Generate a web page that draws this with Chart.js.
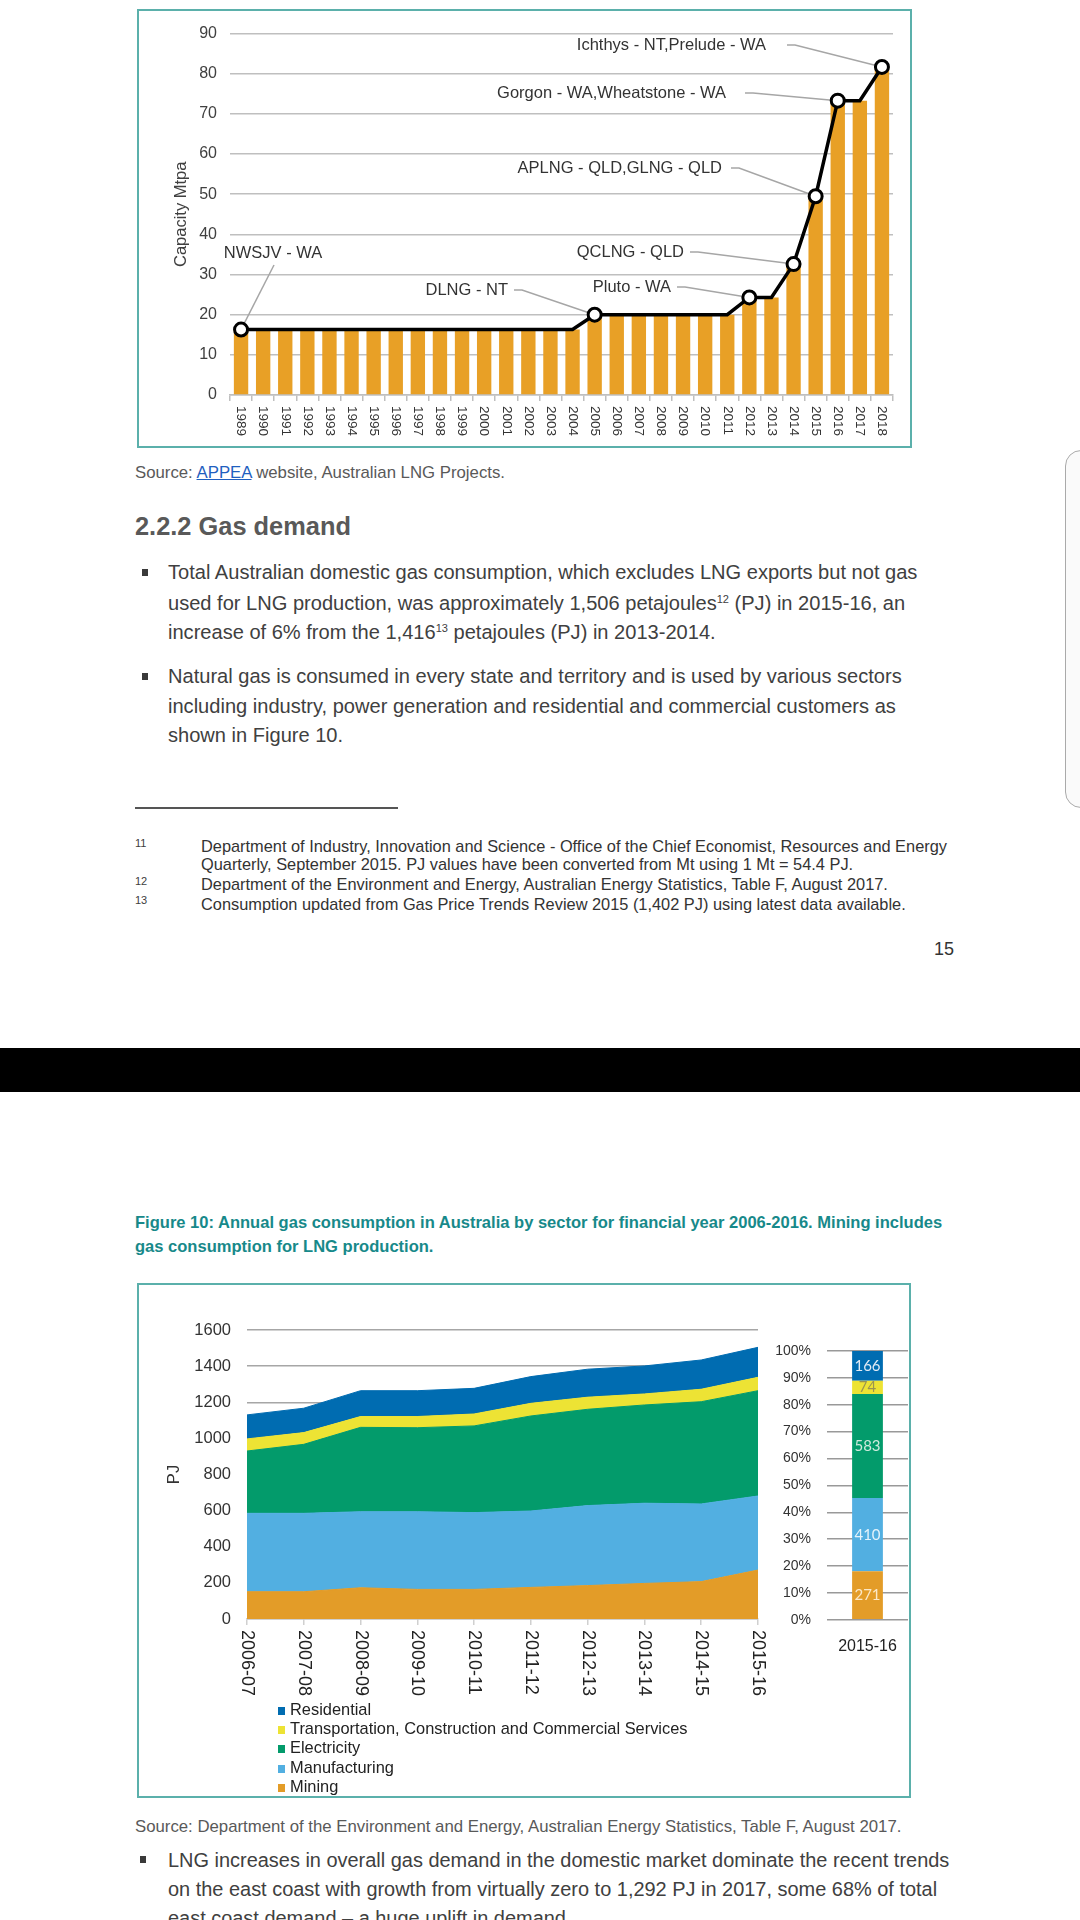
<!DOCTYPE html>
<html><head><meta charset="utf-8">
<script src="https://cdn.jsdelivr.net/npm/chart.js@4.4.1/dist/chart.umd.min.js"></script>
<style>
html,body{margin:0;padding:0;}
body{width:1080px;height:1920px;position:relative;overflow:hidden;background:#fff;font-family:"Liberation Sans",Arial,sans-serif;}
.t{position:absolute;white-space:nowrap;line-height:1.15;}
.frame{position:absolute;border:2px solid #5BB0AB;box-sizing:border-box;}
.cv{position:absolute;}
.bul{position:absolute;width:6px;height:7px;background:#3a3a3a;}
sup{font-size:0.55em;vertical-align:0.6em;line-height:0;}
#legend{position:absolute;left:278px;top:1700px;font-size:16.4px;color:#222;}
#legend .row{height:19.2px;line-height:19.2px;white-space:nowrap;}
#legend .sw{display:inline-block;width:7px;height:8px;margin-right:5px;vertical-align:0px;}
</style></head>
<body>
<!-- top figure -->
<div class="frame" style="left:137px;top:9px;width:775px;height:439px;"></div>
<canvas id="cap" class="cv" style="left:139px;top:11px;" width="771" height="435"></canvas>

<div class="t" data-g="src" data-y="473" style="left:135px;font-size:14.5px;color:#595959">Source: <span style="color:#1f5fbf;text-decoration:underline">APPEA</span> website, Australian LNG Projects.</div>
<div class="t" data-g="h" data-w="216" data-y="527" style="left:135px;font-size:24px;font-weight:bold;color:#595959">2.2.2 Gas demand</div>

<div class="bul" style="left:142px;top:569px"></div>
<div class="t" data-g="body" data-w="750" data-y="573" style="left:168px;font-size:20px;color:#404040">Total Australian domestic gas consumption, which excludes LNG exports but not gas</div>
<div class="t" data-g="body" data-y="604" style="left:168px;font-size:20px;color:#404040">used for LNG production, was approximately 1,506 petajoules<sup>12</sup> (PJ) in 2015-16, an</div>
<div class="t" data-g="body" data-y="633" style="left:168px;font-size:20px;color:#404040">increase of 6% from the 1,416<sup>13</sup> petajoules (PJ) in 2013-2014.</div>

<div class="bul" style="left:142px;top:673px"></div>
<div class="t" data-g="body" data-y="677" style="left:168px;font-size:20px;color:#404040">Natural gas is consumed in every state and territory and is used by various sectors</div>
<div class="t" data-g="body" data-y="707" style="left:168px;font-size:20px;color:#404040">including industry, power generation and residential and commercial customers as</div>
<div class="t" data-g="body" data-y="736" style="left:168px;font-size:20px;color:#404040">shown in Figure 10.</div>

<div style="position:absolute;left:135px;top:807px;width:263px;height:2px;background:#555"></div>

<div class="t" data-g="fnn" data-y="843" style="left:135px;font-size:11px;color:#404040">11</div>
<div class="t" data-g="fn" data-w="746" data-y="846" style="left:201px;font-size:15px;color:#333">Department of Industry, Innovation and Science - Office of the Chief Economist, Resources and Energy</div>
<div class="t" data-g="fn" data-y="864" style="left:201px;font-size:15px;color:#333">Quarterly, September 2015. PJ values have been converted from Mt using 1 Mt = 54.4 PJ.</div>
<div class="t" data-g="fnn" data-y="881" style="left:135px;font-size:11px;color:#404040">12</div>
<div class="t" data-g="fn" data-y="884" style="left:201px;font-size:15px;color:#333">Department of the Environment and Energy, Australian Energy Statistics, Table F, August 2017.</div>
<div class="t" data-g="fnn" data-y="900" style="left:135px;font-size:11px;color:#404040">13</div>
<div class="t" data-g="fn" data-y="904" style="left:201px;font-size:15px;color:#333">Consumption updated from Gas Price Trends Review 2015 (1,402 PJ) using latest data available.</div>

<div class="t" data-g="pg" data-y="949" style="left:934px;font-size:18px;color:#333">15</div>

<div style="position:absolute;left:1065px;top:450px;width:40px;height:358px;border:1.5px solid #aaa;border-radius:16px;background:#fafafa;box-sizing:border-box"></div>

<div style="position:absolute;left:0;top:1048px;width:1080px;height:44px;background:#000"></div>

<!-- bottom figure -->
<div class="t" data-g="cap" data-w="808" data-y="1223" style="left:135px;font-size:15px;font-weight:bold;color:#17898a">Figure 10: Annual gas consumption in Australia by sector for financial year 2006-2016. Mining includes</div>
<div class="t" data-g="cap" data-y="1247" style="left:135px;font-size:15px;font-weight:bold;color:#17898a">gas consumption for LNG production.</div>

<div class="frame" style="left:137px;top:1283px;width:774px;height:515px;"></div>
<canvas id="area" class="cv" style="left:139px;top:1285px;" width="631" height="420"></canvas>
<canvas id="share" class="cv" style="left:770px;top:1285px;" width="140" height="380"></canvas>
<div id="legend"></div>

<div class="t" data-g="src" data-w="767" data-y="1827" style="left:135px;font-size:14.5px;color:#595959">Source: Department of the Environment and Energy, Australian Energy Statistics, Table F, August 2017.</div>

<div class="bul" style="left:140px;top:1856px"></div>
<div class="t" data-g="body2" data-w="782" data-y="1860" style="left:168px;font-size:20px;color:#404040">LNG increases in overall gas demand in the domestic market dominate the recent trends</div>
<div class="t" data-g="body2" data-y="1889" style="left:168px;font-size:20px;color:#404040">on the east coast with growth from virtually zero to 1,292 PJ in 2017, some 68% of total</div>
<div class="t" data-g="body2" data-y="1918" style="left:168px;font-size:20px;color:#404040">east coast demand – a huge uplift in demand.</div>

<script>
// ---------- data: LNG capacity ----------
const years = ['1989','1990','1991','1992','1993','1994','1995','1996','1997','1998','1999','2000','2001','2002','2003','2004','2005','2006','2007','2008','2009','2010','2011','2012','2013','2014','2015','2016','2017','2018'];
const capacity = [16.3,16.3,16.3,16.3,16.3,16.3,16.3,16.3,16.3,16.3,16.3,16.3,16.3,16.3,16.3,16.3,20,20,20,20,20,20,20,24.3,24.3,32.6,49.5,73.3,73.3,81.7];
const projectYears = ['1989','2005','2012','2014','2015','2016','2018'];
const projectNames = ['NWSJV - WA','DLNG - NT','Pluto - WA','QCLNG - QLD','APLNG - QLD,GLNG - QLD','Gorgon - WA,Wheatstone - WA','Ichthys - NT,Prelude - WA'];
const capacityTicks = [0,10,20,30,40,50,60,70,80,90];

// ---------- data: gas consumption by sector (PJ) ----------
const periods = ['2006-07','2007-08','2008-09','2009-10','2010-11','2011-12','2012-13','2013-14','2014-15','2015-16'];
const mining        = [151,151,173,164,164,175,185,197,207,271];
const manufacturing = [434,434,421,430,425,423,443,444,430,410];
const electricity   = [345,382,467,465,480,526,533,544,566,583];
const transport     = [67,65,60,62,66,70,67,61,69,74];
const residential   = [133,135,143,143,142,148,155,155,162,166];
const sectorNames = ['Mining','Manufacturing','Electricity','Transportation, Construction and Commercial Services','Residential'];
const pjTicks = [0,200,400,600,800,1000,1200,1400,1600];
const percentTicks = [0,10,20,30,40,50,60,70,80,90,100];

// ---------- styling ----------
const FONT = 'Liberation Sans';
const sectorColors = ['#E39C28','#52AFE1','#039B6B','#EDE334','#006CB1'];
const shareLabelColors = ['#fbe8c8','#e4f3fb','#cfeadd','#9a9450','#e2ebf5'];

// ---------- layout helpers for text ----------
(function fitText(){
  const groups = {};
  document.querySelectorAll('.t').forEach(el => { (groups[el.dataset.g] = groups[el.dataset.g] || []).push(el); });
  for (const g in groups) {
    const ref = groups[g].find(e => e.dataset.w);
    if (ref) {
      const k = parseFloat(ref.dataset.w) / ref.getBoundingClientRect().width;
      groups[g].forEach(e => { e.style.fontSize = (parseFloat(getComputedStyle(e).fontSize) * k) + 'px'; });
    }
  }
  document.querySelectorAll('.t').forEach(el => {
    const h = el.getBoundingClientRect().height;
    el.style.top = (parseFloat(el.dataset.y) - h / 2) + 'px';
  });
})();

// ---------- plugins ----------
const rotatedXLabels = {
  id: 'rotatedXLabels',
  afterDraw(chart, args, opts) {
    if (!opts || !opts.labels) return;
    const xs = chart.scales.x, ctx = chart.ctx;
    ctx.save();
    ctx.font = opts.font;
    ctx.fillStyle = opts.color;
    ctx.textAlign = 'left';
    ctx.textBaseline = 'middle';
    opts.labels.forEach((lab, i) => {
      ctx.save();
      ctx.translate(xs.getPixelForTick(i), xs.top + opts.offset);
      ctx.rotate(Math.PI / 2);
      ctx.fillText(lab, 0, 0);
      ctx.restore();
    });
    ctx.restore();
  }
};

const callouts = {
  id: 'callouts',
  beforeDatasetsDraw(chart, args, opts) {
    const xs = chart.scales.x, ys = chart.scales.y, ctx = chart.ctx;
    ctx.save();
    ctx.font = opts.font;
    ctx.fillStyle = opts.color;
    ctx.textBaseline = 'middle';
    opts.items.forEach((it, n) => {
      const i = years.indexOf(projectYears[n]);
      const px = xs.getPixelForValue(i), py = ys.getPixelForValue(capacity[i]);
      ctx.strokeStyle = opts.lineColor;
      ctx.lineWidth = 1.5;
      ctx.beginPath();
      ctx.moveTo(it.lx, it.ly);
      if (it.align === 'right') ctx.lineTo(it.lx + 8, it.ly);
      ctx.lineTo(px, py);
      ctx.stroke();
      ctx.textAlign = it.align;
      ctx.fillText(projectNames[n], it.tx, it.ty);
    });
    ctx.restore();
  }
};

const segmentLabels = {
  id: 'segmentLabels',
  afterDatasetsDraw(chart, args, opts) {
    const ctx = chart.ctx;
    ctx.save();
    ctx.font = opts.font;
    ctx.textAlign = 'center';
    ctx.textBaseline = 'middle';
    chart.data.datasets.forEach((ds, k) => {
      const el = chart.getDatasetMeta(k).data[0];
      const c = el.getCenterPoint();
      ctx.fillStyle = shareLabelColors[k];
      ctx.fillText(String(opts.values[k]), c.x, c.y);
    });
    ctx.restore();
  }
};

// ---------- chart 1: LNG capacity ----------
new Chart(document.getElementById('cap'), {
  type: 'bar',
  data: {
    labels: years,
    datasets: [
      { type: 'line', data: capacity, borderColor: '#000', borderWidth: 3.5, tension: 0,
        pointRadius: c => projectYears.includes(years[c.dataIndex]) ? 6.5 : 0,
        pointBackgroundColor: '#fff', pointBorderColor: '#000', pointBorderWidth: 3, order: 0 },
      { type: 'bar', data: capacity, backgroundColor: '#E8A026', barPercentage: 0.65, categoryPercentage: 1, order: 1 }
    ]
  },
  options: {
    responsive: false, animation: false, devicePixelRatio: 1,
    layout: { padding: { top: 17, right: 17, left: 0, bottom: 0 } },
    plugins: {
      legend: { display: false }, tooltip: { enabled: false },
      rotatedXLabels: { labels: years, font: '13.5px "Liberation Sans"', color: '#333', offset: 11 },
      callouts: {
        font: '16.5px "Liberation Sans"', color: '#333', lineColor: '#a6a6a6',
        items: [
          { align: 'center', tx: 134, ty: 242, lx: 135, ly: 254 },
          { align: 'right', tx: 369, ty: 279, lx: 375, ly: 279 },
          { align: 'right', tx: 532, ty: 276, lx: 538, ly: 276 },
          { align: 'right', tx: 545, ty: 241, lx: 551, ly: 241 },
          { align: 'right', tx: 583, ty: 157, lx: 592, ly: 157 },
          { align: 'right', tx: 587, ty: 82, lx: 606, ly: 82 },
          { align: 'right', tx: 627, ty: 34, lx: 648, ly: 34 }
        ]
      }
    },
    scales: {
      x: {
        grid: { drawOnChartArea: false, drawTicks: true, tickLength: 6, color: '#bfbfbf', lineWidth: 1.5 },
        border: { color: '#bfbfbf', width: 1.5 },
        ticks: { display: false },
        afterFit: s => { s.height = 51; }
      },
      y: {
        min: 0, max: 90,
        afterBuildTicks: s => { s.ticks = capacityTicks.map(v => ({ value: v })); },
        ticks: { font: { family: FONT, size: 16 }, color: '#404040', padding: 13, callback: v => String(v) },
        grid: { color: '#bfbfbf', lineWidth: 1.5, drawTicks: false },
        border: { display: false },
        title: { display: true, text: 'Capacity Mtpa', font: { family: FONT, size: 16.5 }, color: '#404040', padding: { top: 33 } },
        afterFit: s => { s.width = 91; }
      }
    }
  },
  plugins: [rotatedXLabels, callouts]
});

// ---------- chart 2: stacked area ----------
const sectorSeries = [mining, manufacturing, electricity, transport, residential];
new Chart(document.getElementById('area'), {
  type: 'line',
  data: {
    labels: periods,
    datasets: sectorSeries.map((s, k) => ({
      label: sectorNames[k], data: s, backgroundColor: sectorColors[k], borderColor: sectorColors[k],
      borderWidth: 1, pointRadius: 0, tension: 0, fill: k === 0 ? 'origin' : '-1'
    }))
  },
  options: {
    responsive: false, animation: false, devicePixelRatio: 1,
    layout: { padding: { top: 45, right: 12, left: 0, bottom: 0 } },
    plugins: {
      legend: { display: false }, tooltip: { enabled: false },
      rotatedXLabels: { labels: periods, font: '18px "Liberation Sans"', color: '#222', offset: 11 }
    },
    scales: {
      x: {
        offset: false,
        grid: { drawOnChartArea: false, drawTicks: true, tickLength: 6, color: '#d0d0d0', lineWidth: 1.5 },
        border: { color: '#d0d0d0', width: 1.5 },
        ticks: { display: false },
        afterFit: s => { s.height = 86; }
      },
      y: {
        stacked: true, min: 0, max: 1600,
        afterBuildTicks: s => { s.ticks = pjTicks.map(v => ({ value: v })); },
        ticks: { font: { family: FONT, size: 16.5 }, color: '#333', padding: 16, callback: v => String(v) },
        grid: { color: '#a6a6a6', lineWidth: 1.5, drawTicks: false },
        border: { display: false },
        title: { display: true, text: 'PJ', font: { family: FONT, size: 16.5 }, color: '#333', padding: { top: 26 } },
        afterFit: s => { s.width = 108; }
      }
    }
  },
  plugins: [rotatedXLabels]
});

// ---------- chart 3: 100% share in 2015-16 ----------
const shareValues = sectorSeries.map(s => s[s.length - 1]);
const shareTotal = shareValues.reduce((a, b) => a + b, 0);
new Chart(document.getElementById('share'), {
  type: 'bar',
  data: {
    labels: [periods[periods.length - 1]],
    datasets: shareValues.map((v, k) => ({
      label: sectorNames[k], data: [v / shareTotal * 100], backgroundColor: sectorColors[k],
      barPercentage: 0.38, categoryPercentage: 1
    }))
  },
  options: {
    responsive: false, animation: false, devicePixelRatio: 1,
    layout: { padding: { top: 66, right: 2, left: 0, bottom: 0 } },
    plugins: {
      legend: { display: false }, tooltip: { enabled: false },
      segmentLabels: { values: shareValues, font: '15px Lato' }
    },
    scales: {
      x: {
        stacked: true,
        grid: { display: false }, border: { display: false },
        ticks: { font: { family: FONT, size: 16 }, color: '#222', padding: 9 }
      },
      y: {
        stacked: true, min: 0, max: 100,
        afterBuildTicks: s => { s.ticks = percentTicks.map(v => ({ value: v })); },
        ticks: { font: { family: FONT, size: 14 }, color: '#333', padding: 16, callback: v => v + '%' },
        grid: { color: '#999', lineWidth: 1.5, drawTicks: false },
        border: { display: false },
        afterFit: s => { s.width = 57; }
      }
    }
  },
  plugins: [segmentLabels]
});

// ---------- legend (HTML, from the dataset arrays) ----------
const legendEl = document.getElementById('legend');
for (let k = sectorNames.length - 1; k >= 0; k--) {
  const row = document.createElement('div');
  row.className = 'row';
  const sw = document.createElement('span');
  sw.className = 'sw';
  sw.style.background = sectorColors[k];
  row.appendChild(sw);
  row.appendChild(document.createTextNode(sectorNames[k]));
  legendEl.appendChild(row);
}
</script>
</body></html>
